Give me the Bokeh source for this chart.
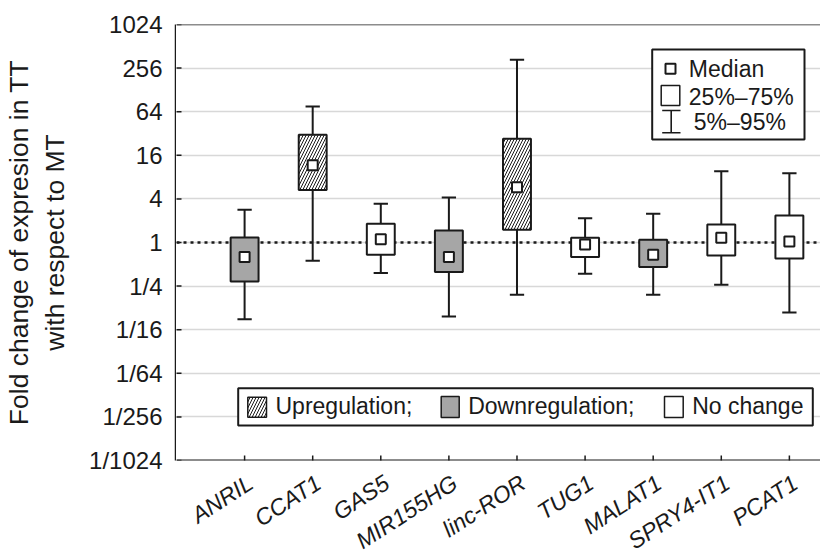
import math
from bokeh.plotting import figure
from bokeh.layouts import column, row
from bokeh.core.properties import value
from bokeh.models import (ColumnDataSource, Range1d, FixedTicker, Span,
                          BoxAnnotation, Label, Grid)
from bokeh.embed import file_html
from bokeh.resources import INLINE

# ---------------- data ----------------
genes = ["ANRIL", "CCAT1", "GAS5", "MIR155HG", "linc-ROR",
         "TUG1", "MALAT1", "SPRY4-IT1", "PCAT1"]
p05 = [0.087, 0.56, 0.38, 0.095, 0.19, 0.37, 0.19, 0.26, 0.108]
q25 = [0.29, 5.3, 0.68, 0.39, 1.5, 0.63, 0.46, 0.66, 0.60]
median = [0.63, 11.7, 1.11, 0.63, 5.8, 0.94, 0.68, 1.16, 1.03]
q75 = [1.17, 30.7, 1.81, 1.47, 27.0, 1.16, 1.09, 1.77, 2.36]
p95 = [2.83, 75.6, 3.42, 4.18, 333.0, 2.17, 2.49, 9.65, 9.06]
regulation = ["down", "up", "none", "down", "up",
              "none", "down", "none", "none"]

y_tick_values = [1/1024, 1/256, 1/64, 1/16, 1/4, 1, 4, 16, 64, 256, 1024]
y_tick_labels = ["1/1024", "1/256", "1/64", "1/16", "1/4", "1",
                 "4", "16", "64", "256", "1024"]
y_title = "Fold change of expresion in TT\nwith respect to MT"
legend_stats = ["Median", "25%\u201375%", "5%\u201395%"]
legend_regulation = ["Upregulation;", "Downregulation;", "No change"]

# ---------------- styling ----------------
INK = "#1a1a1a"
GRAY = "#a6a6a6"
FONT = "Liberation Sans"
fill_map = {"up": "white", "down": GRAY, "none": "white"}
hatch_map = {"up": "/", "down": " ", "none": " "}

xs = list(range(1, len(genes) + 1))
box_w = 0.41
cap_half = 0.105
Y_LO, Y_HI = y_tick_values[0], y_tick_values[-1]

x_range = Range1d(0, 9.457)
y_range = Range1d(Y_LO, Y_HI)

src = ColumnDataSource(dict(
    x=xs, p05=p05, q25=q25, median=median, q75=q75, p95=p95,
    cap0=[x - cap_half for x in xs], cap1=[x + cap_half for x in xs],
    fill=[fill_map[r] for r in regulation],
    hatch=[hatch_map[r] for r in regulation],
    floor=[Y_LO] * len(xs),
    name=genes, top1=[1] * len(xs),
))
ytick_src = ColumnDataSource(dict(
    y=y_tick_values, x=[x_range.start] * len(y_tick_values)))

# ---------------- y axis panel ----------------
yfig = figure(width=176, height=554, output_backend="svg", toolbar_location=None,
              y_axis_type="log", x_axis_location=None,
              x_range=Range1d(0, 1), y_range=y_range,
              min_border_left=175, min_border_right=0,
              min_border_top=24, min_border_bottom=94)
yfig.outline_line_color = None
yfig.background_fill_color = "white"
yfig.border_fill_color = "white"
for g in yfig.grid:
    g.visible = False

ya = yfig.yaxis[0]
ya.ticker = FixedTicker(ticks=y_tick_values)
ya.major_label_overrides = dict(zip(y_tick_values, y_tick_labels))
ya.major_tick_in = 0
ya.major_tick_out = 0
ya.minor_tick_in = 0
ya.minor_tick_out = 0
ya.axis_line_width = 1.5
ya.axis_line_color = INK
ya.major_label_text_font = FONT
ya.major_label_text_font_size = "24px"
ya.major_label_text_color = INK
ya.major_label_standoff = 13
ya.axis_label = y_title
ya.axis_label_text_font = FONT
ya.axis_label_text_font_size = "26.5px"
ya.axis_label_text_font_style = "normal"
ya.axis_label_text_color = INK
ya.axis_label_text_line_height = 1.2
ya.axis_label_standoff = 16

# ---------------- main plot ----------------
p = figure(width=644, height=462, output_backend="svg", toolbar_location=None,
           y_axis_type="log", x_axis_location=None, y_axis_location=None,
           x_range=x_range, y_range=y_range,
           min_border_left=0, min_border_top=24, min_border_bottom=2,
           min_border_right=0)
p.outline_line_color = None
p.background_fill_color = "white"
p.border_fill_color = "white"
for g in p.grid:
    g.visible = False
p.add_layout(Grid(dimension=1, ticker=FixedTicker(ticks=y_tick_values),
                  grid_line_color="#d8d8d8", grid_line_width=1.5))

# reference line at 1
p.add_layout(Span(location=1, dimension="width", line_color=INK,
                  line_width=2.5, line_dash="3 4", level="underlay"))
# frame lines (top and bottom)
p.add_layout(Span(location=Y_HI, dimension="width", line_color=INK,
                  line_width=1.5, level="overlay"))
p.add_layout(Span(location=Y_LO, dimension="width", line_color=INK,
                  line_width=2, level="overlay"))

# whiskers
p.segment(x0="x", x1="x", y0="q75", y1="p95", source=src, line_color=INK, line_width=2)
p.segment(x0="x", x1="x", y0="p05", y1="q25", source=src, line_color=INK, line_width=2)
p.segment(x0="cap0", x1="cap1", y0="p95", y1="p95", source=src, line_color=INK, line_width=2)
p.segment(x0="cap0", x1="cap1", y0="p05", y1="p05", source=src, line_color=INK, line_width=2)

# boxes
p.vbar(x="x", width=box_w, bottom="q25", top="q75", source=src,
       fill_color="fill", hatch_pattern="hatch", hatch_color=INK,
       hatch_scale=6, hatch_weight=1, line_color=INK, line_width=2)

# medians
p.scatter(x="x", y="median", source=src, marker="square", size=10,
          fill_color="white", line_color=INK, line_width=2)

# inward tick marks on both axes
p.scatter(x="x", y="floor", source=src, marker="dash", angle=math.pi / 2,
          size=10, line_color=INK, line_width=1.5)
p.scatter(x="x", y="y", source=ytick_src, marker="dash",
          size=10, line_color=INK, line_width=1.5)

# ---------------- legends (screen units, frame-relative) ----------------
LFS = "23px"

def sbox(l, r, b, t, **kw):
    opts = dict(left=l - 1, right=r - 1, bottom=b, top=t, left_units="screen",
                right_units="screen", bottom_units="screen", top_units="screen",
                fill_color="white", fill_alpha=1, line_color=INK, line_width=1.5,
                line_alpha=1)
    opts.update(kw)
    p.add_layout(BoxAnnotation(**opts))

def slabel(x, y, text):
    p.add_layout(Label(x=x - 1, y=y, x_units="screen", y_units="screen", text=text,
                       text_font=FONT, text_font_size=LFS, text_color=INK,
                       text_baseline="middle", text_align="left"))

# top-right legend
sbox(476.7, 629, 321, 411, line_width=2)
sbox(490, 500, 386.7, 396.7, line_width=2)
slabel(513.3, 391.7, legend_stats[0])
sbox(485.7, 504.3, 355, 375, line_width=1.5)
slabel(513.3, 363.7, legend_stats[1])
sbox(494.9, 496.5, 327.7, 350, line_width=0, fill_color=INK)
sbox(486.7, 505, 349.2, 350.8, line_width=0, fill_color=INK)
sbox(486.7, 505, 326.9, 328.5, line_width=0, fill_color=INK)
slabel(518.3, 338.3, legend_stats[2])

# bottom legend
sbox(62.7, 637.3, 35, 72.3, line_width=2)
sbox(72.3, 91, 43.3, 63.3, hatch_pattern="/", hatch_color=INK, hatch_scale=6,
     hatch_weight=1)
slabel(100, 54.2, legend_regulation[0])
sbox(265.7, 283.7, 43, 64, fill_color=GRAY)
slabel(292.7, 54.2, legend_regulation[1])
sbox(489, 507.7, 43, 64)
slabel(516.7, 54.2, legend_regulation[2])

# ---------------- category labels strip (shares the x scale) ----------------
q = figure(width=644, height=92, output_backend="svg", toolbar_location=None,
           x_range=x_range, y_range=Range1d(0, 1),
           x_axis_location=None, y_axis_location=None,
           min_border_left=0, min_border_top=0, min_border_bottom=0,
           min_border_right=0)
q.outline_line_color = None
for g in q.grid:
    g.visible = False
q.background_fill_color = "white"
q.border_fill_color = "white"
q.text(x="x", y="top1", text="name", source=src, angle=math.radians(33),
       x_offset=6, y_offset=18, text_align="right", text_baseline="alphabetic",
       text_font=value(FONT), text_font_size=value("23px"),
       text_font_style=value("italic"), text_color=INK)

layout = row(yfig, column(p, q, spacing=0), spacing=0)
open("out.html", "w").write(file_html(layout, INLINE))
